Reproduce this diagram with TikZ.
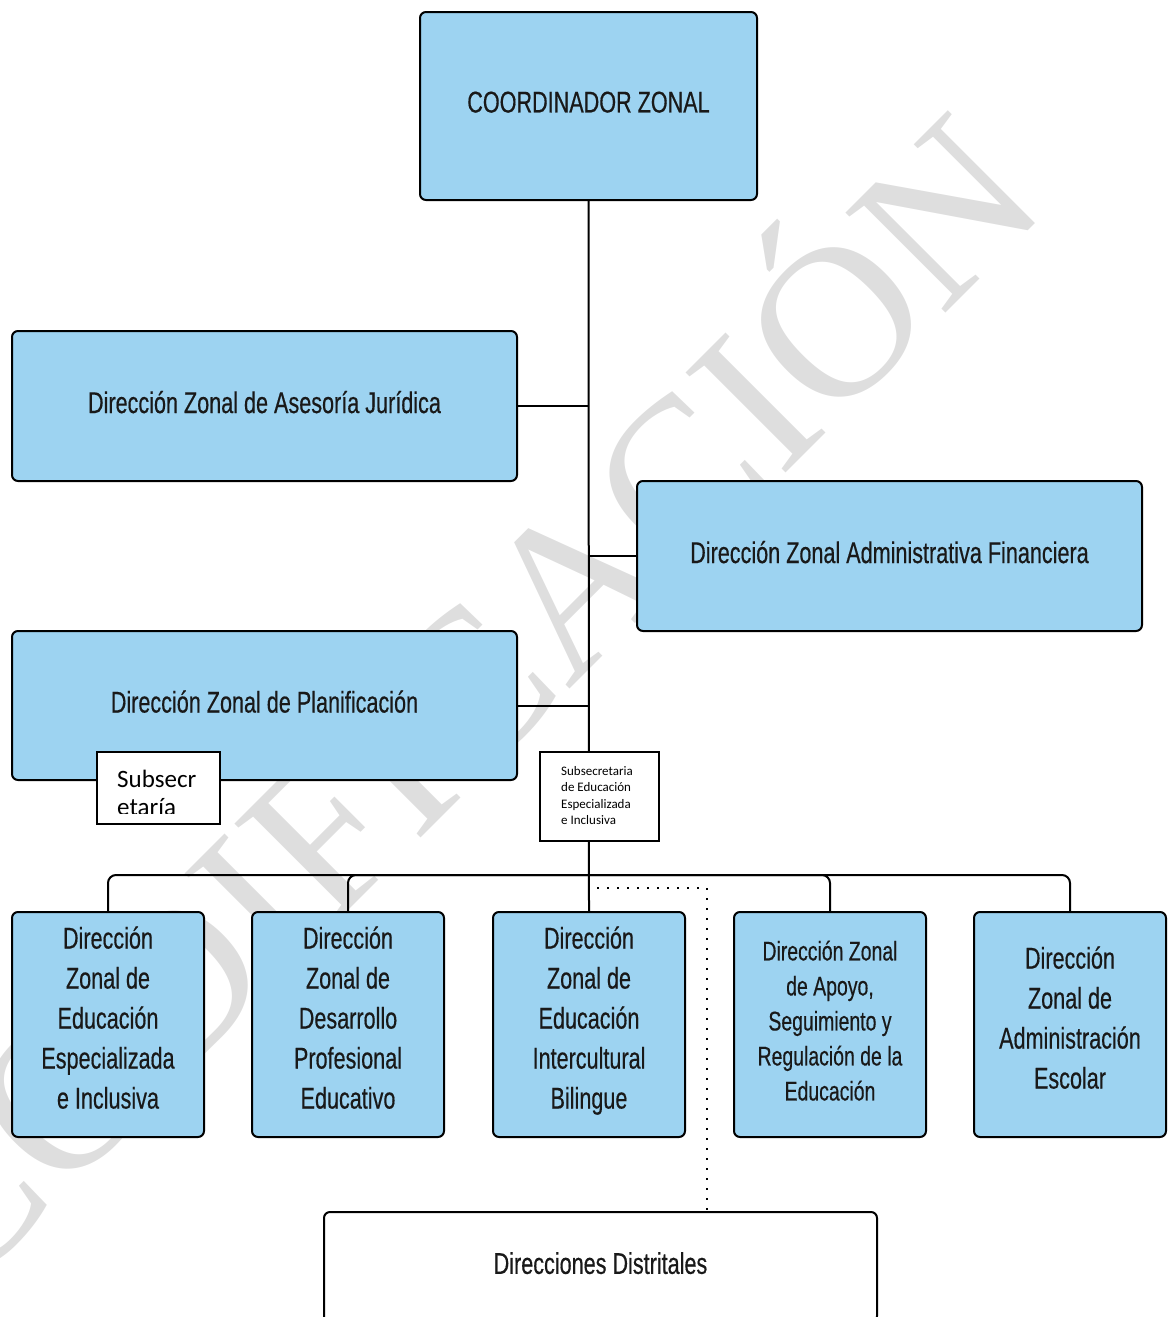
\documentclass[tikz,border=0pt]{standalone}
\usepackage{fontspec}
\newfontfamily\boxfont[FakeStretch=0.72, FakeBold=0.4]{Liberation Sans}
\newfontfamily\tagfont{Carlito}
\newfontfamily\markfont{Liberation Serif}
\definecolor{boxblue}{RGB}{157,211,241}
\definecolor{markgray}{RGB}{222,222,222}
\begin{document}
\begin{tikzpicture}[x=1pt,y=-1pt]
\tikzstyle{every node}+=[inner sep=0pt]
\tikzstyle{unit}=[draw=black, line width=2pt, fill=boxblue, rounded corners=6pt, align=center, text=black!90, text depth=8pt, font=\boxfont\fontsize{30}{40}\selectfont]
\tikzstyle{lowunit}=[unit, minimum width=192pt, minimum height=225pt, text depth=14pt]
\tikzstyle{tag}=[draw=black, line width=1.3pt, fill=white]
\tikzstyle{link}=[black, line width=2pt]
\clip (0,0) rectangle (1170,1317);
% watermark
\node (mark) [rotate=45, anchor=base east, text=markgray, font=\markfont\fontsize{216}{216}\selectfont] at (1052,207) {CODIFICACIÓN};
% upper units
\node (coord) [unit, minimum width=337pt, minimum height=188pt] at (588.5,106) {COORDINADOR ZONAL};
\node (ases) [unit, minimum width=505pt, minimum height=150pt] at (264.5,406) {Dirección Zonal de Asesoría Jurídica};
\node (admin) [unit, minimum width=505pt, minimum height=150pt] at (889.5,556) {Dirección Zonal Administrativa Financiera};
\node (plan) [unit, minimum width=505pt, minimum height=149pt] at (264.5,705.5) {Dirección Zonal de Planificación};
% lower units
\node (espec) [lowunit] at (108,1024.5) {Dirección\\Zonal de\\Educación\\Especializada\\e Inclusiva};
\node (desarr) [lowunit] at (348,1024.5) {Dirección\\Zonal de\\Desarrollo\\Profesional\\Educativo};
\node (inter) [lowunit] at (589,1024.5) {Dirección\\Zonal de\\Educación\\Intercultural\\Bilingue};
\node (apoyo) [lowunit, text depth=8pt, font=\boxfont\fontsize{27}{35}\selectfont] at (830,1024.5) {Dirección Zonal\\de Apoyo,\\Seguimiento y\\Regulación de la\\Educación};
\node (escolar) [lowunit] at (1070,1024.5) {Dirección\\Zonal de\\Administración\\Escolar};
\node (distr) [unit, fill=white, minimum width=553pt, minimum height=110pt] at (600.5,1267) {Direcciones Distritales};
% connectors
\coordinate (bus) at (589,875);
\draw [link] (coord.south) -- (inter.north);
\draw [link] (ases.east) -- (ases.east -| coord.south);
\draw [link] (admin.west) -- (admin.west -| coord.south);
\draw [link] (plan.east) -- (plan.east -| coord.south);
\draw [link, rounded corners=8pt] (bus) -| (espec.north);
\draw [link, rounded corners=8pt] (bus) -| (desarr.north);
\draw [link, rounded corners=8pt] (bus) -| (apoyo.north);
\draw [link, rounded corners=8pt] (bus) -| (escolar.north);
\coordinate (dotA) at (597,888);
\coordinate (dotB) at (707,888);
\draw [line width=1.5pt, dash pattern=on 1.5pt off 8.5pt] (dotA) -- (dotB) -- (dotB |- distr.north);
% subsecretaria tags
\node (tagA) [tag, minimum width=123pt, minimum height=72pt] at (158.5,788) {};
\begin{scope}
\clip (98,753) rectangle (219,813);
\node (tagAa) [anchor=base west, font=\tagfont\fontsize{25}{28}\selectfont] at (117,787) {Subsecr};
\node (tagAb) [anchor=base west, font=\tagfont\fontsize{25}{28}\selectfont] at (117,815) {etaría};
\end{scope}
\node (tagB) [tag, minimum width=119pt, minimum height=89pt] at (599.5,796.5) {};
\node (tagBtext) [anchor=north west, align=left, font=\tagfont\fontsize{13}{16.5}\selectfont] at (561,766) {Subsecretaria\\de Educación\\Especializada\\e Inclusiva};
\end{tikzpicture}
\end{document}
